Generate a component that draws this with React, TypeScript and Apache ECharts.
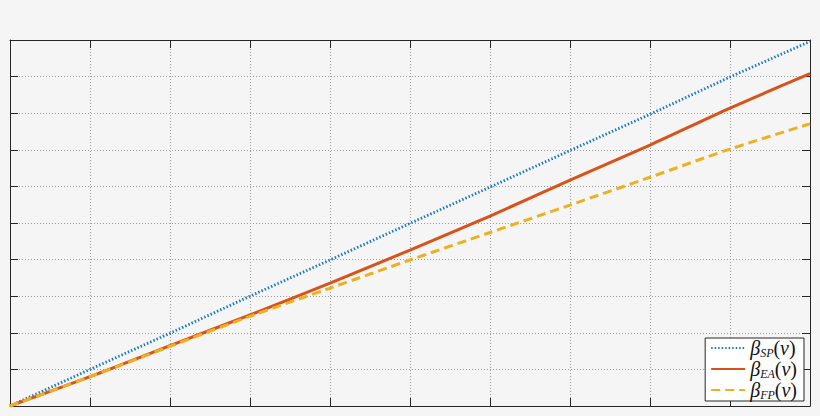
import { useEffect, useRef } from "react";
import * as echarts from "echarts";

const xValues = [0, 1, 2, 3, 4, 5, 6, 7, 8, 9, 10];
const spValues = [0, 1.0, 1.99, 3.0, 3.99, 4.99, 5.98, 6.98, 7.97, 8.99, 9.96];
const eaValues = [0, 0.8, 1.65, 2.49, 3.36, 4.26, 5.19, 6.17, 7.13, 8.14, 9.08];
const fpValues = [0, 0.8, 1.63, 2.45, 3.22, 3.99, 4.74, 5.49, 6.25, 7.02, 7.71];
const seriesNames = ["βSP(v)", "βEA(v)", "βFP(v)"];

const FRAME = "#262626";
const SERIF = "'Liberation Serif', 'DejaVu Serif', serif";

function pairs(ys: number[]) {
  return xValues.map((x, i) => [x, ys[i]]);
}

export default function App() {
  const ref = useRef<HTMLDivElement>(null);

  useEffect(() => {
    document.body.style.margin = "0";
    const chart = echarts.init(ref.current!, null, { renderer: "svg" });

    const boxAxis = {
      type: "value",
      min: 0,
      max: 10,
      interval: 1,
      axisLabel: { show: false },
      axisLine: { show: true, onZero: false, lineStyle: { color: FRAME, width: 1 } },
      axisTick: { show: true, inside: true, length: 8, lineStyle: { color: FRAME, width: 1 } },
    };
    const grid = { show: true, lineStyle: { color: "#9a9a9a", width: 1, type: [1, 2] } };
    const main = { fontFamily: SERIF, fontSize: 20, lineHeight: 22, color: "#111" };

    chart.setOption({
      animation: false,
      backgroundColor: "#f5f5f5",
      grid: { left: 10, right: 10, top: 40, bottom: 10, containLabel: false },
      xAxis: [
        { ...boxAxis, position: "bottom", splitLine: grid },
        { ...boxAxis, position: "top", splitLine: { show: false } },
      ],
      yAxis: [
        { ...boxAxis, position: "left", splitLine: grid },
        { ...boxAxis, position: "right", splitLine: { show: false } },
      ],
      legend: {
        orient: "vertical",
        right: 16,
        bottom: 15,
        backgroundColor: "#ffffff",
        borderColor: FRAME,
        borderWidth: 1,
        borderRadius: 0,
        padding: [0, 7, 0, 5],
        itemGap: 0,
        itemWidth: 34,
        itemHeight: 12,
        itemStyle: { opacity: 0 },
        data: seriesNames,
        formatter: (name: string) =>
          `{b|β}{s|${name.slice(1, -3)}}{p|(}{v|v}{p|)}`,
        textStyle: {
          fontFamily: SERIF,
          color: "#111",
          padding: [0, 0, 0, 0],
          rich: {
            b: { ...main, fontStyle: "italic" },
            s: {
              fontFamily: SERIF, fontStyle: "italic", fontSize: 12, color: "#111",
              verticalAlign: "bottom", lineHeight: 12, padding: [4, 0, 0, 0],
            },
            p: { ...main },
            v: { ...main, fontStyle: "italic" },
          },
        },
      },
      series: [
        {
          name: seriesNames[0],
          type: "line",
          data: pairs(spValues),
          symbol: "none",
          lineStyle: { color: "#1a78c2", width: 2.8, type: [1.5, 2] },
          itemStyle: { color: "#1a78c2" },
        },
        {
          name: seriesNames[1],
          type: "line",
          data: pairs(eaValues),
          symbol: "none",
          smooth: 0.3,
          lineStyle: { color: "#D95319", width: 3 },
          itemStyle: { color: "#D95319" },
        },
        {
          name: seriesNames[2],
          type: "line",
          data: pairs(fpValues),
          symbol: "none",
          smooth: 0.3,
          lineStyle: { color: "#EDB120", width: 3, type: [9, 5] },
          itemStyle: { color: "#EDB120" },
        },
      ],
    });

    return () => chart.dispose();
  }, []);

  return <div ref={ref} style={{ width: 820, height: 416 }} />;
}
